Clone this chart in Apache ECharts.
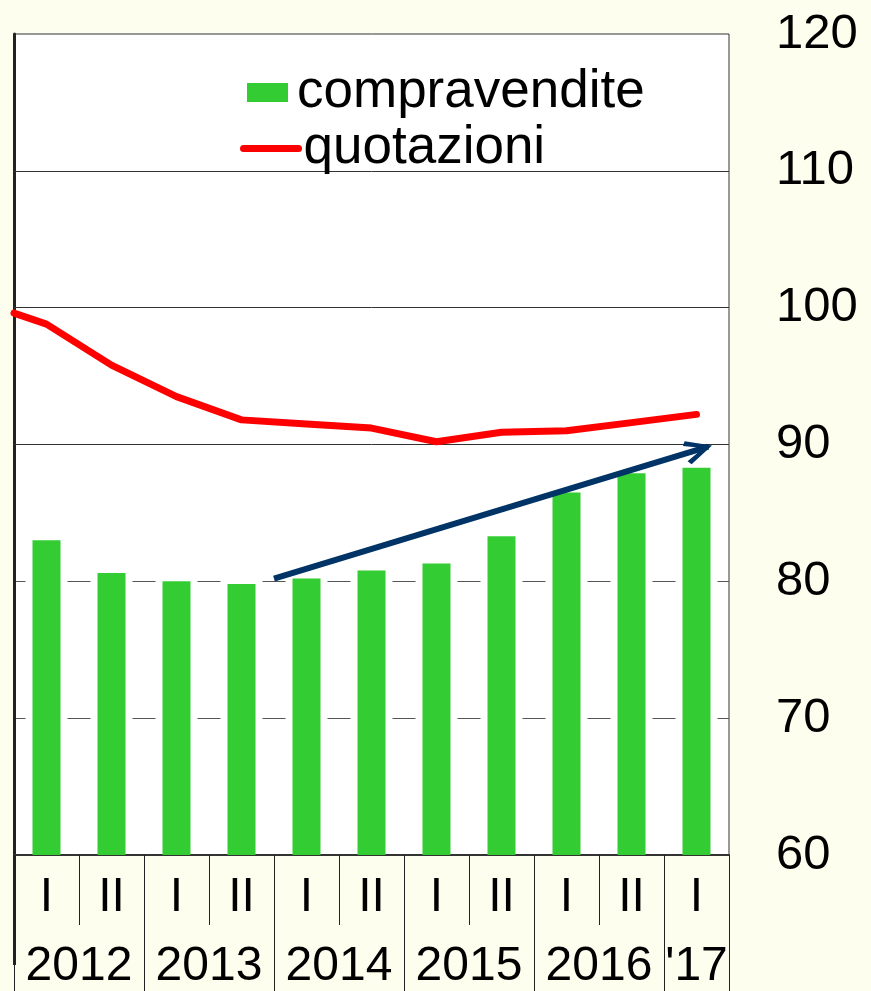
<!DOCTYPE html>
<html>
<head>
<meta charset="utf-8">
<script src="https://cdn.jsdelivr.net/npm/echarts@6/dist/echarts.min.js"></script>
<style>
  html, body { margin: 0; padding: 0; background: #fefeee; }
  #chart { width: 871px; height: 991px; }
</style>
</head>
<body>
<div id="chart"></div>
<script>
// semestri
const halves = ['I', 'II', 'I', 'II', 'I', 'II', 'I', 'II', 'I', 'II', 'I']
const years = ['2012', '2013', '2014', '2015', '2016', "'17"]
// posizione degli anni sull'asse (in semestri)
const yearCenters = [1, 3, 5, 7, 9, 10.5]
const yearBounds = [0, 2, 4, 6, 8, 10, 11]

// indici (2010 = 100)
const compravendite = [83.0, 80.6, 80.0, 79.8, 80.2, 80.8, 81.3, 83.3, 86.5, 87.9, 88.3]
const quotazioniStart = 99.6 // valore al bordo sinistro
const quotazioni = [98.8, 95.8, 93.5, 91.8, 91.5, 91.2, 90.2, 90.9, 91.0, 91.6, 92.2]

// freccia di tendenza
const trendFrom = [4, 80.2]
const trendTo = [10.68, 89.85]

const yTicks = { min: 60, max: 120, interval: 10 }
const solidGrid = [90, 100, 110]

const FONT = "'Liberation Sans', Arial, sans-serif"

const chart = echarts.init(document.getElementById('chart'))

const lineData = [[0, quotazioniStart]].concat(quotazioni.map((v, i) => [i + 0.5, v]))

// punta a "V" con la punta al centro del simbolo
const chevron = 'path://M12,0L12.1,0L12.1,0.1Z M12,20L24,45L20,48L12,29L4,48L0,45Z'

const option = {
  backgroundColor: '#fefeee',
  animation: false,
  textStyle: { fontFamily: FONT },
  grid: {
    left: 14,
    right: 142,
    top: 34,
    bottom: 136,
    show: true,
    backgroundColor: '#ffffff',
    borderColor: '#333',
    borderWidth: 1,
  },
  legend: [
    {
      data: ['compravendite'],
      left: 247,
      top: 66,
      padding: 0,
      icon: 'rect',
      itemWidth: 41,
      itemHeight: 19,
      selectedMode: false,
      textStyle: { fontSize: 53, color: '#000', fontFamily: FONT, padding: [0, 0, 0, 4] },
    },
    {
      data: ['quotazioni'],
      left: 240,
      top: 122,
      padding: 0,
      itemWidth: 55,
      itemHeight: 14,
      selectedMode: false,
      itemStyle: { opacity: 0 },
      lineStyle: { width: 7, color: '#ff0000', cap: 'round' },
      textStyle: { fontSize: 53, color: '#000', fontFamily: FONT, padding: [0, 0, 16, 0] },
    },
  ],
  xAxis: [
    {
      type: 'category',
      data: halves,
      position: 'bottom',
      boundaryGap: true,
      axisLine: { show: true, lineStyle: { color: '#333', width: 2 } },
      axisTick: { show: true, interval: 0, length: 70, lineStyle: { color: '#222', width: 1 } },
      axisLabel: { interval: 0, fontSize: 48, color: '#000', fontFamily: FONT, margin: 19 },
      splitLine: { show: false },
    },
    {
      type: 'value',
      position: 'bottom',
      min: 0,
      max: 11,
      axisLine: { show: false, onZero: false },
      axisTick: { show: true, customValues: yearBounds, length: 136, lineStyle: { color: '#222', width: 1 } },
      axisLabel: {
        show: true,
        customValues: yearCenters,
        fontSize: 48,
        color: '#000',
        fontFamily: FONT,
        margin: 88,
        formatter: (v) => {
          const i = yearCenters.indexOf(v)
          return i >= 0 ? years[i] : ''
        },
      },
      splitLine: { show: false },
    },
    {
      type: 'value',
      position: 'bottom',
      min: 0,
      max: 11,
      axisLine: { show: false, onZero: false },
      axisTick: { show: true, customValues: [0], length: 110, lineStyle: { color: '#222', width: 3 } },
      axisLabel: { show: false },
      splitLine: { show: false },
    },
  ],
  yAxis: [
    {
      type: 'value',
      position: 'right',
      min: yTicks.min,
      max: yTicks.max,
      interval: yTicks.interval,
      axisLine: { show: true, lineStyle: { color: '#333', width: 1 } },
      axisTick: { show: false },
      axisLabel: { fontSize: 49, color: '#000', fontFamily: FONT, margin: 47 },
      splitLine: {
        show: true,
        showMinLine: false,
        showMaxLine: false,
        lineStyle: { color: '#555', width: 1, type: [23, 42], dashOffset: 11.5 },
      },
    },
    {
      type: 'value',
      position: 'left',
      min: yTicks.min,
      max: yTicks.max,
      interval: yTicks.interval,
      axisLine: { show: true, onZero: false, lineStyle: { color: '#222', width: 3 } },
      axisTick: { show: false },
      axisLabel: { show: false },
      splitLine: { show: false },
    },
  ],
  series: [
    {
      name: 'compravendite',
      type: 'bar',
      xAxisIndex: 0,
      yAxisIndex: 0,
      data: compravendite,
      barWidth: 28,
      itemStyle: { color: '#33cc33' },
      markLine: {
        silent: true,
        symbol: 'none',
        z: 1,
        label: { show: false },
        lineStyle: { color: '#333', width: 1, type: 'solid' },
        data: solidGrid.map(v => ({ yAxis: v })),
      },
    },
    {
      name: 'quotazioni',
      type: 'line',
      xAxisIndex: 1,
      yAxisIndex: 0,
      data: lineData,
      symbol: 'none',
      clip: true,
      lineStyle: { color: '#ff0000', width: 7, cap: 'round', join: 'round' },
      itemStyle: { color: '#ff0000' },
      markLine: {
        silent: true,
        symbol: ['none', chevron],
        symbolSize: [24, 48],
        label: { show: false },
        lineStyle: { color: '#003366', width: 6, type: 'solid' },
        data: [[{ coord: trendFrom }, { coord: trendTo }]],
      },
    },
  ],
}

chart.setOption(option)
</script>
</body>
</html>
